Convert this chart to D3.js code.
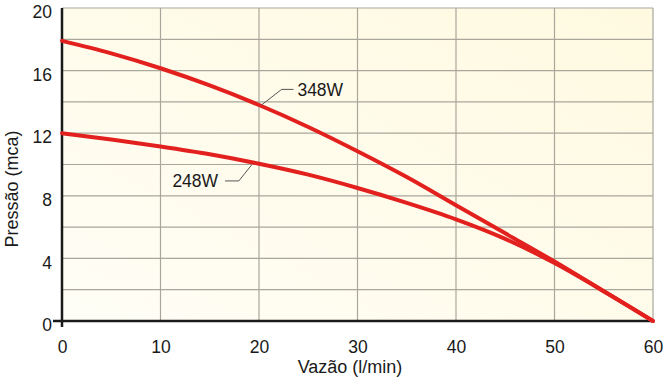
<!DOCTYPE html>
<html>
<head>
<meta charset="utf-8">
<script src="https://cdn.jsdelivr.net/npm/d3@7"></script>
<style>
  body { margin: 0; background: #fff; }
  text { font-family: "Liberation Sans", Arial, sans-serif; fill: #1a1a1a; }
</style>
</head>
<body>
<div id="plot"></div>
<script>
let width = 668;
let height = 381;
let margin = {left: 62, right: 15, top: 8, bottom: 60};

let flow = [0, 5, 10, 15, 20, 25, 30, 35, 40, 45, 50, 55, 60];
let p348 = [17.9, 17.1, 16.15, 15.05, 13.8, 12.4, 10.85, 9.2, 7.4, 5.6, 3.8, 1.9, 0];
let p248 = [12.0, 11.6, 11.15, 10.65, 10.05, 9.35, 8.5, 7.55, 6.5, 5.25, 3.7, 1.9, 0];
let xTicks = [0, 10, 20, 30, 40, 50, 60];
let yTicks = [0, 4, 8, 12, 16, 20];
let yGrid = [2, 4, 6, 8, 10, 12, 14, 16, 18, 20];

let svg = d3.select("#plot")
    .append("svg")
    .attr("width", width)
    .attr("height", height);

let x = d3.scaleLinear().domain([0, 60]).range([margin.left, width - margin.right]);
let y = d3.scaleLinear().domain([0, 20]).range([height - margin.bottom, margin.top]);

// cream background
let grad = svg.append("defs").append("linearGradient")
    .attr("id", "bg").attr("x1", "0%").attr("y1", "100%").attr("x2", "100%").attr("y2", "0%");
grad.append("stop").attr("offset", "0%").attr("stop-color", "#fffef6");
grad.append("stop").attr("offset", "100%").attr("stop-color", "#fff9e0");

svg.append("rect")
    .attr("x", x(0)).attr("y", y(20))
    .attr("width", x(60) - x(0)).attr("height", y(0) - y(20))
    .attr("fill", "url(#bg)");

// grid
svg.append("g").selectAll("line").data(xTicks.slice(1))
    .join("line")
    .attr("x1", d => x(d)).attr("x2", d => x(d))
    .attr("y1", y(0)).attr("y2", y(20))
    .attr("stroke", "#a9a69c").attr("stroke-width", 1.2);

svg.append("g").selectAll("line").data(yGrid)
    .join("line")
    .attr("x1", x(0)).attr("x2", x(60))
    .attr("y1", d => y(d)).attr("y2", d => y(d))
    .attr("stroke", "#a9a69c").attr("stroke-width", 1.2);

// axes
let xAxis = d3.axisBottom(x).tickValues(xTicks).tickSize(0).tickPadding(20);
svg.append("g")
    .attr("transform", "translate(0," + y(0) + ")")
    .call(xAxis)
    .call(g => g.select(".domain").remove())
    .selectAll("text").style("font-size", "17.5px");

let yAxis = d3.axisLeft(y).tickValues(yTicks).tickSize(0).tickPadding(10);
svg.append("g")
    .attr("transform", "translate(" + x(0) + ",4)")
    .call(yAxis)
    .call(g => g.select(".domain").remove())
    .selectAll("text").style("font-size", "17.5px");

svg.append("line")
    .attr("x1", x(0) - 9).attr("x2", x(60))
    .attr("y1", y(0)).attr("y2", y(0))
    .attr("stroke", "#1a1a1a").attr("stroke-width", 2.5);
svg.append("line")
    .attr("x1", x(0)).attr("x2", x(0))
    .attr("y1", y(20)).attr("y2", y(0) + 6)
    .attr("stroke", "#1a1a1a").attr("stroke-width", 2.5);

// curves
let line = d3.line()
    .x(d => x(d[0]))
    .y(d => y(d[1]))
    .curve(d3.curveMonotoneX);

[p348, p248].forEach(function (series) {
    svg.append("path")
        .datum(flow.map((f, i) => [f, series[i]]))
        .attr("d", line)
        .attr("fill", "none")
        .attr("stroke", "#e2211f")
        .attr("stroke-width", 4)
        .attr("stroke-linecap", "round");
});

// labels with leader lines
svg.append("path")
    .attr("d", "M" + x(20.25) + "," + y(13.8) + " L" + x(22.3) + "," + y(14.8) + " L" + x(23.5) + "," + y(14.8))
    .attr("fill", "none").attr("stroke", "#555").attr("stroke-width", 1);
svg.append("text")
    .attr("x", x(23.9)).attr("y", y(14.8))
    .attr("dy", "0.35em")
    .style("font-size", "17.5px")
    .text("348W");

svg.append("path")
    .attr("d", "M" + x(19.25) + "," + y(9.97) + " L" + x(17.95) + "," + y(8.95) + " L" + x(16.55) + "," + y(8.95))
    .attr("fill", "none").attr("stroke", "#555").attr("stroke-width", 1);
svg.append("text")
    .attr("x", x(15.85)).attr("y", y(8.95))
    .attr("dy", "0.35em")
    .attr("text-anchor", "end")
    .style("font-size", "17.5px")
    .text("248W");

// axis titles
svg.append("text")
    .attr("x", 350)
    .attr("y", height - 8)
    .attr("text-anchor", "middle")
    .style("font-size", "18px")
    .text("Vazão (l/min)");

svg.append("text")
    .attr("transform", "translate(18,189) rotate(-90)")
    .attr("text-anchor", "middle")
    .style("font-size", "18px")
    .text("Pressão (mca)");
</script>
</body>
</html>
